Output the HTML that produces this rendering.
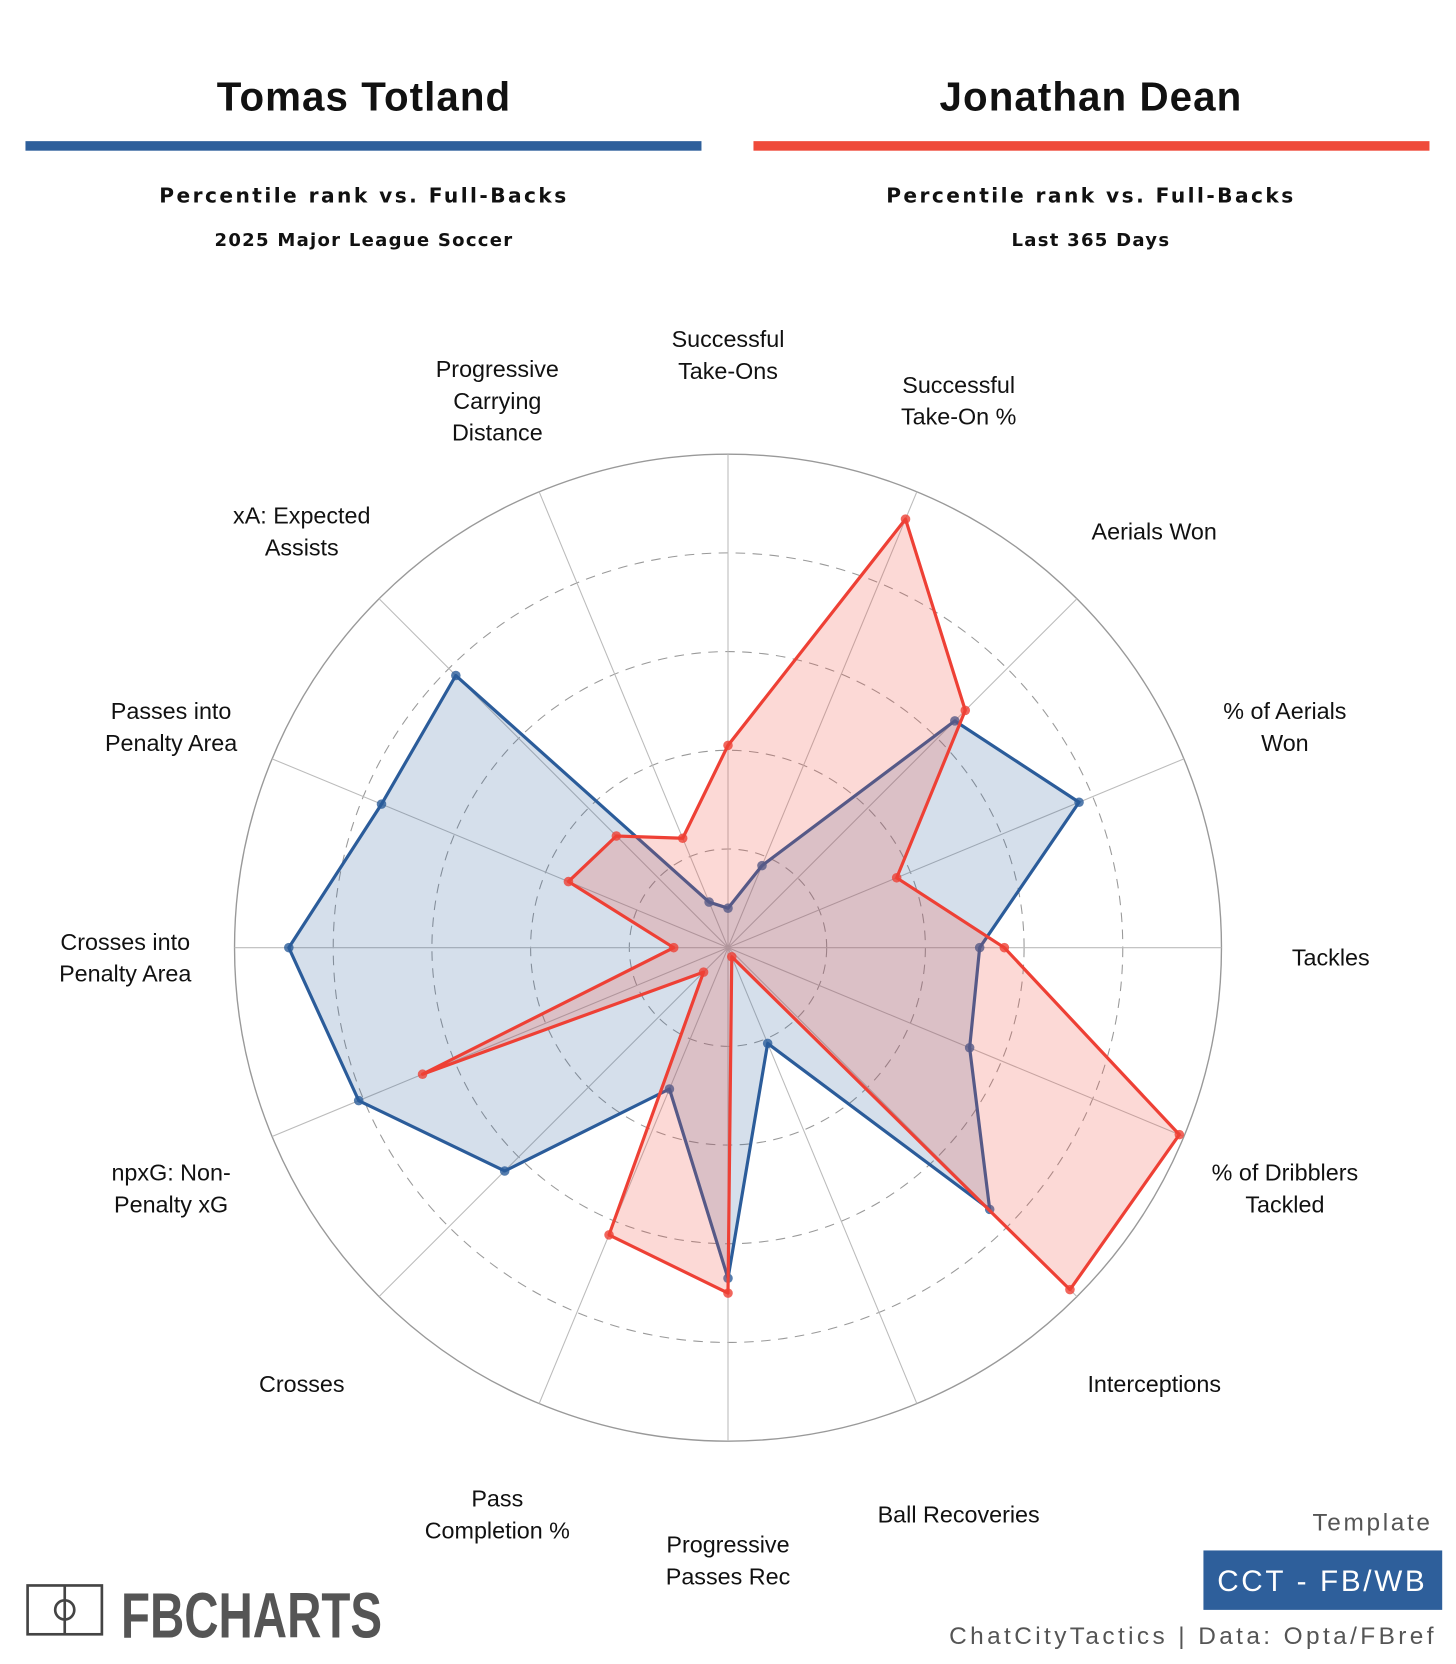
<!DOCTYPE html>
<html><head><meta charset="utf-8"><style>
html,body{margin:0;padding:0;background:#fff}
svg{display:block}
text{font-family:"Liberation Sans",Arial,sans-serif}
.lab{font-size:22px;fill:#111}
.sub{font-family:"DejaVu Sans","Liberation Sans",sans-serif;font-weight:bold;fill:#111}
</style></head><body>
<svg id="chart" width="1456" height="1664" viewBox="0 0 1372 1568" xmlns="http://www.w3.org/2000/svg">
<text x="343" y="104" text-anchor="middle" font-size="38" font-weight="bold" fill="#111" letter-spacing="1">Tomas Totland</text>
<text x="1028" y="104" text-anchor="middle" font-size="38" font-weight="bold" fill="#111" letter-spacing="1">Jonathan Dean</text>
<rect x="24" y="133" width="637" height="9" fill="#2e5f9b"/>
<rect x="710" y="133" width="637" height="9" fill="#ef4a3a"/>
<text class="sub" x="343" y="191" text-anchor="middle" font-size="19" letter-spacing="2.3">Percentile rank vs. Full-Backs</text>
<text class="sub" x="343" y="232" text-anchor="middle" font-size="17" letter-spacing="1.2">2025 Major League Soccer</text>
<text class="sub" x="1028" y="191" text-anchor="middle" font-size="19" letter-spacing="2.3">Percentile rank vs. Full-Backs</text>
<text class="sub" x="1028" y="232" text-anchor="middle" font-size="17" letter-spacing="1.2">Last 365 Days</text>
<g id="radar"></g>
<g>
<rect x="26" y="1494" width="70" height="46" fill="none" stroke="#444" stroke-width="2.5"/>
<line x1="61" y1="1494" x2="61" y2="1540" stroke="#444" stroke-width="2.5"/>
<circle cx="61" cy="1517" r="9" fill="none" stroke="#444" stroke-width="2.5"/>
<text x="114" y="1543" font-size="60" font-weight="bold" fill="#555" font-family="DejaVu Sans Condensed, Liberation Sans Narrow, sans-serif" textLength="246" lengthAdjust="spacingAndGlyphs">FBCHARTS</text>
</g>
<text x="1350" y="1442" text-anchor="end" font-size="23" fill="#555" font-family="DejaVu Sans" letter-spacing="2.5">Template</text>
<rect x="1134" y="1461" width="225" height="56" fill="#2e5f9b"/>
<text x="1246" y="1499" text-anchor="middle" font-size="28" fill="#fff" font-family="DejaVu Sans" letter-spacing="2.5">CCT - FB/WB</text>
<text x="1354" y="1549" text-anchor="end" font-size="23" fill="#555" font-family="DejaVu Sans" letter-spacing="3.2">ChatCityTactics | Data: Opta/FBref</text>
</svg>
<script>
const categories = ["Successful\nTake-Ons","Successful\nTake-On %","Aerials Won","% of Aerials\nWon","Tackles","% of Dribblers\nTackled","Interceptions","Ball Recoveries","Progressive\nPasses Rec","Pass\nCompletion %","Crosses","npxG: Non-\nPenalty xG","Crosses into\nPenalty Area","Passes into\nPenalty Area","xA: Expected\nAssists","Progressive\nCarrying\nDistance"];
const totlandValues = [8,18,65,77,51,53,75,21,67,31,64,81,89,76,78,10];
const deanValues = [41,94,68,37,56,99,98,2,70,63,7,67,11,35,32,24];
const ringLevels = [20,40,60,80];

const NS="http://www.w3.org/2000/svg";
const g=document.getElementById('radar');
const CX=686, CY=893, R=465, LR=568;
function ang(i){return -Math.PI/2 + i*2*Math.PI/categories.length;}
function rScale(v){return v/100*R;}
function pt(i,v){const a=ang(i);return [CX+rScale(v)*Math.cos(a),CY+rScale(v)*Math.sin(a)];}
function mk(tag,attrs){const e=document.createElementNS(NS,tag);for(const k in attrs)e.setAttribute(k,attrs[k]);g.appendChild(e);return e;}

const outer=mk('circle',{cx:CX,cy:CY,r:R,fill:'none',stroke:'#999','stroke-width':1.3});


ringLevels.forEach(l=>{
  const c=mk('circle',{cx:CX,cy:CY,r:rScale(l),fill:'none',stroke:'#999','stroke-width':1,'stroke-dasharray':'9,7'});
  
  
});
categories.forEach((c,i)=>{
  const [x,y]=pt(i,100);
  const s=mk('line',{x1:CX,y1:CY,x2:x,y2:y,stroke:'#bbb','stroke-width':1});
  
  
  const a=ang(i);
  const lx=CX+LR*Math.cos(a), ly=CY+LR*Math.sin(a);
  const lines=c.split('\n');
  const t=mk('text',{x:lx,'text-anchor':'middle',class:'lab'});
  
  
  const lh=30, y0=ly-(lines.length-1)*lh/2+17;
  lines.forEach((ln,k)=>{const ts=document.createElementNS(NS,'tspan');ts.setAttribute('x',lx);ts.setAttribute('y',y0+k*lh);ts.textContent=ln;t.appendChild(ts);});
});
function series(vals,stroke,fill,name){
  const pts=vals.map((v,i)=>pt(i,v));
  const p=mk('polygon',{points:pts.map(q=>q.join(',')).join(' '),fill:fill,stroke:stroke,'stroke-width':3,'stroke-linejoin':'round'});
  
  
  pts.forEach((q,i)=>{
    const d=mk('circle',{cx:q[0],cy:q[1],r:4.5,fill:stroke,'fill-opacity':0.8});
    
    
  });
}
series(totlandValues,'#2b5c9a','rgba(46,95,155,0.2)','totland');
series(deanValues,'#ee4035','rgba(240,80,70,0.22)','dean');
</script>
</body></html>
